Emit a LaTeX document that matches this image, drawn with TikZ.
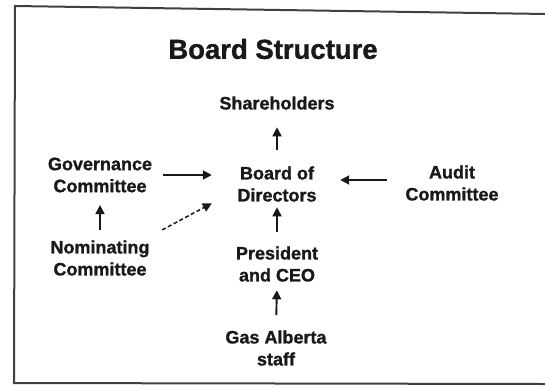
\documentclass[tikz,border=0pt]{standalone}
\usepackage{fontspec}
\setmainfont{Liberation Sans}[BoldFeatures={FakeBold=1.2}]
\usetikzlibrary{arrows.meta}
\tikzset{
  lbl/.style={inner sep=0pt, align=center, text=black!90, font=\bfseries\fontsize{18}{22}\selectfont},
  ttl/.style={inner sep=0pt, text=black!90, font=\bfseries\fontsize{27.5}{32}\selectfont},
  arr/.style={draw=black!90, line width=1.9pt, -{Triangle[length=9pt,width=9pt]}},
  darr/.style={arr, line width=1.5pt, dash pattern=on 4pt off 2.5pt},
  frame/.style={draw=black!75, line width=2pt}
}
\begin{document}
\begin{tikzpicture}[x=1pt,y=1pt]
\useasboundingbox (0,0) rectangle (545,-386);
% frame
\draw[frame] (546,-14) -- (15,-6) -- (14,-383) -- (546,-384);
% title
\node[ttl] (title) at (273,-49) {Board Structure};
% nodes
\node[lbl] (share) at (277,-103) {Shareholders};
\node[lbl] (board) at (277,-184) {Board of\\Directors};
\node[lbl] (gov)   at (100,-175) {Governance\\Committee};
\node[lbl] (audit) at (452,-183) {Audit\\Committee};
\node[lbl] (nom)   at (100,-258) {Nominating\\Committee};
\node[lbl] (pres)  at (277,-264) {President\\and CEO};
\node[lbl] (staff) at (276,-348) {Gas Alberta\\staff};
% connectors
\draw[arr, shorten <=16pt, shorten >=17.5pt] (board.north) -- (share.south);
\draw[arr, shorten <=14pt, shorten >=5.5pt] (pres.north) -- (board.south);
\draw[arr, shorten <=15pt, shorten >=8.5pt] (staff.north) -- (pres.south);
\draw[arr, shorten <=10pt, shorten >=12.5pt] (nom.north) -- (gov.south);
\draw[arr, shorten <=11pt, shorten >=25.5pt] (gov.east) -- (gov.east -| board.west);
\draw[arr, shorten <=18.5pt, shorten >=23.5pt] ([yshift=3pt]audit.west) -- ([yshift=3pt]audit.west -| board.east);
\draw[darr] ([shift={(12.5pt,10.3pt)}]nom.north east) -- ([shift={(-25.5pt,-1.5pt)}]board.south west);
\end{tikzpicture}
\end{document}
